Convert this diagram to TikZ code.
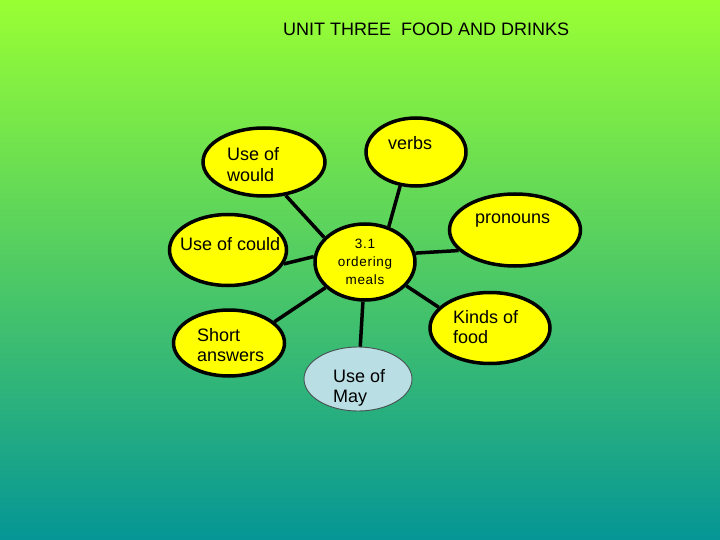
\documentclass[tikz,border=0pt]{standalone}
\usepackage{fontspec}
\setmainfont{Liberation Sans}
\usetikzlibrary{shapes.geometric}
\definecolor{bgtop}{RGB}{153,255,51}
\definecolor{bgbot}{RGB}{5,150,150}
\definecolor{bubble}{RGB}{255,255,0}
\definecolor{maybub}{RGB}{185,222,228}
\definecolor{mayline}{RGB}{70,80,80}
\begin{document}
\begin{tikzpicture}[x=1pt,y=-1pt,
  bub/.style={ellipse, draw=black, line width=3.5pt, fill=bubble, inner sep=0pt},
  maybubble/.style={ellipse, draw=mayline, line width=0.9pt, fill=maybub, inner sep=0pt},
  lab/.style={anchor=base west, inner sep=0pt, font=\fontsize{18}{20.5}\selectfont},
  conn/.style={line width=3.5pt, draw=black}
]
\useasboundingbox (0,0) rectangle (720,540);
\shade[top color=bgtop, bottom color=bgbot] (0,0) rectangle (720,540);

\node[lab] (title) at (283,36) {UNIT THREE\ \ FOOD AND DRINKS};

% bubbles
\node[bub, minimum width=122pt, minimum height=68pt] (would) at (264,162) {};
\node[bub, minimum width=100pt, minimum height=68pt] (verbs) at (416,152) {};
\node[bub, minimum width=131pt, minimum height=72pt] (pron) at (515,230) {};
\node[bub, minimum width=117pt, minimum height=71pt] (could) at (228,250) {};
\node[bub, minimum width=100pt, minimum height=76pt] (c) at (365,262) {};
\node[bub, minimum width=120pt, minimum height=71pt] (kinds) at (490,328) {};
\node[bub, minimum width=111pt, minimum height=66pt] (short) at (229,343) {};
\node[maybubble, minimum width=108pt, minimum height=64pt] (may) at (358,379) {};

% connectors
\draw[conn] (would.-57) -- (c.149);
\draw[conn] (verbs.-115) -- (c.56);
\draw[conn] (pron.-160) -- (c.10);
\draw[conn] (could.-14) -- (c.174);
\draw[conn] (kinds.158) -- (c.-30);
\draw[conn] (short.25) -- (c.-147);
\draw[conn] (may.86) -- (c.-93);

% texts
\node[lab] (wouldt) at (227,161) {\begin{tabular}[t]{@{}l@{}}Use of\\would\end{tabular}};
\node[lab] (verbst) at (388,150) {verbs};
\node[lab] (pront) at (475,224) {pronouns};
\node[lab] (couldt) at (180,251) {Use of could};
\node[lab] (kindst) at (453,323) {\begin{tabular}[t]{@{}l@{}}Kinds of\\food\end{tabular}};
\node[lab] (shortt) at (197,341) {\begin{tabular}[t]{@{}l@{}}Short\\answers\end{tabular}};
\node[lab] (mayt) at (333,382) {\begin{tabular}[t]{@{}l@{}}Use of\\May\end{tabular}};
\node[inner sep=0pt, anchor=base, font=\fontsize{13.5}{18}\selectfont\addfontfeatures{LetterSpace=5}] (ct) at (365,248) {\begin{tabular}[t]{@{}c@{}}3.1\\ordering\\meals\end{tabular}};
\end{tikzpicture}
\end{document}
